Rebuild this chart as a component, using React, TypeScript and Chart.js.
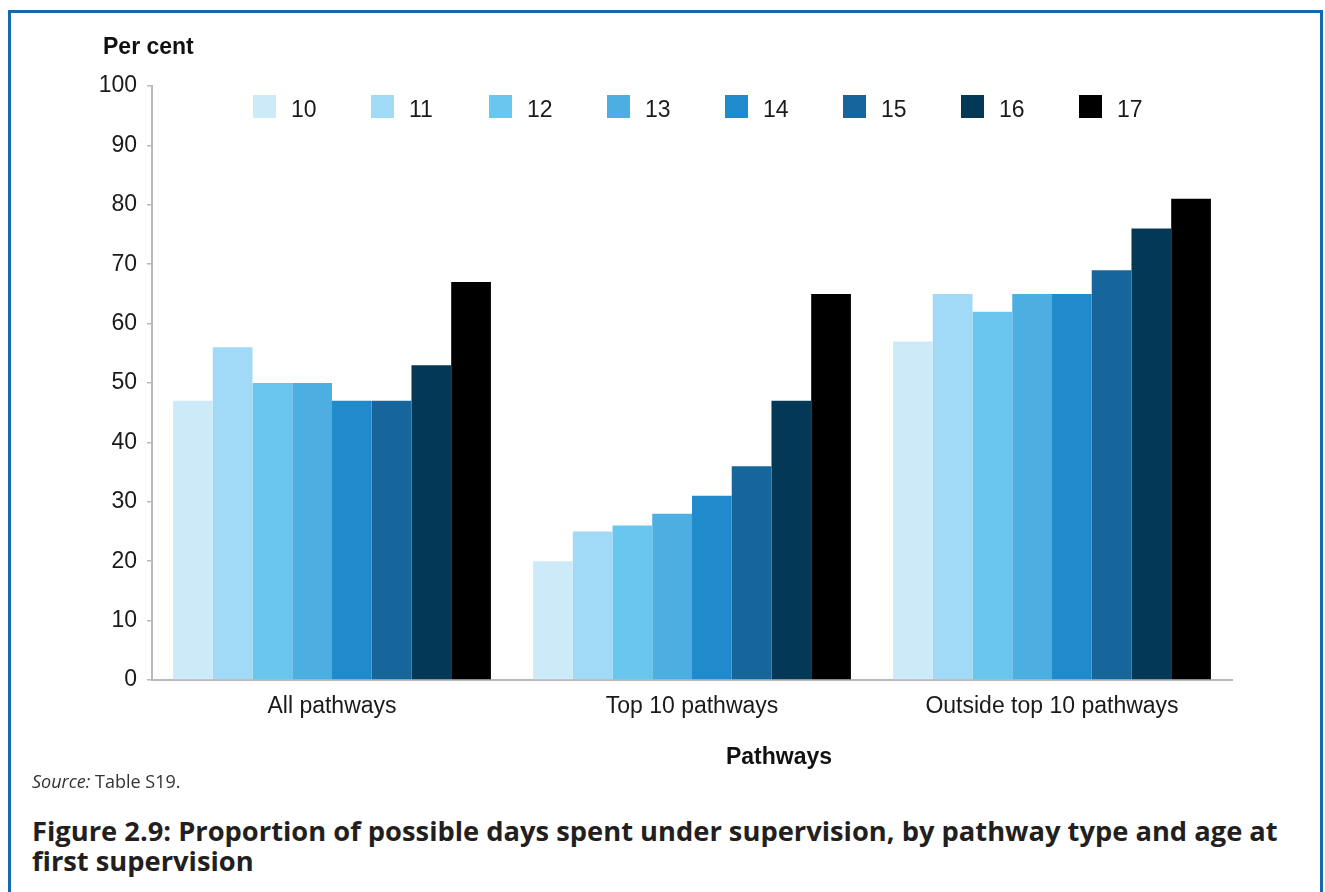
import React, { useEffect, useRef } from "react";
import { Chart, registerables } from "chart.js";

Chart.register(...registerables);

const categories = ["All pathways", "Top 10 pathways", "Outside top 10 pathways"];
const ageLabels = ["10", "11", "12", "13", "14", "15", "16", "17"];
const age10 = [47, 20, 57];
const age11 = [56, 25, 65];
const age12 = [50, 26, 62];
const age13 = [50, 28, 65];
const age14 = [47, 31, 65];
const age15 = [47, 36, 69];
const age16 = [53, 47, 76];
const age17 = [67, 65, 81];
const seriesValues = [age10, age11, age12, age13, age14, age15, age16, age17];
const seriesColors = ["#cdeaf9", "#a1daf6", "#68c6ef", "#4daee2", "#1f8bcc", "#16659b", "#043857", "#000000"];
const yTicks = [0, 10, 20, 30, 40, 50, 60, 70, 80, 90, 100];

const FONT = "'Liberation Sans', Arial, Helvetica, sans-serif";

const insideLegend = {
  id: "insideLegend",
  afterDraw(chart: any) {
    const { ctx, chartArea } = chart;
    ctx.save();
    ctx.font = `23px ${FONT}`;
    ctx.textBaseline = "middle";
    ctx.textAlign = "left";
    chart.data.datasets.forEach((ds: any, i: number) => {
      const bx = chartArea.left + 101 + i * 118;
      const by = chartArea.top + 9;
      ctx.fillStyle = ds.backgroundColor;
      ctx.fillRect(bx, by, 23, 23);
      ctx.fillStyle = "#1a1a1a";
      ctx.fillText(ds.label, bx + 38, by + 16);
    });
    ctx.restore();
  },
};

function BarChart() {
  const ref = useRef<HTMLCanvasElement | null>(null);
  useEffect(() => {
    if (!ref.current) return;
    const chart = new Chart(ref.current, {
      type: "bar",
      data: {
        labels: categories,
        datasets: ageLabels.map((lab, i) => ({
          label: lab,
          data: seriesValues[i],
          backgroundColor: seriesColors[i],
          borderWidth: 0,
          categoryPercentage: 0.883,
          barPercentage: 1,
        })),
      },
      options: {
        animation: false,
        responsive: true,
        maintainAspectRatio: false,
        layout: { padding: { left: 81, right: 88, top: 73, bottom: 40 } },
        plugins: {
          legend: { display: false },
          tooltip: { enabled: false },
          title: { display: false },
        },
        scales: {
          x: {
            grid: { display: false, drawTicks: false },
            border: { display: true, color: "#bdb7b7", width: 2 },
            ticks: {
              color: "#1a1a1a",
              font: { family: FONT, size: 23 },
              padding: 13,
              maxRotation: 0,
            },
            afterFit: (s: any) => {
              s.height = 50;
            },
          },
          y: {
            min: 0,
            max: 100,
            afterBuildTicks: (s: any) => {
              s.ticks = yTicks.map((v) => ({ value: v }));
            },
            grid: {
              display: true,
              drawOnChartArea: false,
              drawTicks: true,
              tickLength: 5,
              color: "#bdb7b7",
              lineWidth: 1.5,
            },
            border: { display: true, color: "#bdb7b7", width: 2 },
            ticks: {
              color: "#1a1a1a",
              font: { family: FONT, size: 23 },
              padding: 10,
            },
            afterFit: (s: any) => {
              s.width = 60;
            },
          },
        },
      },
      plugins: [insideLegend],
    });
    return () => chart.destroy();
  }, []);
  return (
    <div style={{ position: "absolute", left: 0, top: 0, width: 1309, height: 757 }}>
      <canvas ref={ref} />
    </div>
  );
}

export default function App() {
  return (
    <div
      style={{
        position: "absolute",
        left: 8,
        top: 10,
        width: 1309,
        height: 879,
        borderTop: "3px solid #1669b0",
        borderLeft: "3px solid #1669b0",
        borderRight: "3px solid #1669b0",
        background: "#ffffff",
        overflow: "hidden",
      }}
    >
      <BarChart />
      <div
        style={{
          position: "absolute",
          left: 92,
          top: 22,
          font: `bold 23px ${FONT}`,
          lineHeight: "23px",
          color: "#111",
          whiteSpace: "nowrap",
        }}
      >
        Per cent
      </div>
      <div
        style={{
          position: "absolute",
          left: 768,
          top: 732,
          transform: "translateX(-50%)",
          font: `bold 23px ${FONT}`,
          lineHeight: "23px",
          color: "#111",
          whiteSpace: "nowrap",
        }}
      >
        Pathways
      </div>
      <div
        style={{
          position: "absolute",
          left: 21,
          top: 759,
          fontFamily: "'Open Sans', sans-serif",
          fontSize: 18,
          lineHeight: "18px",
          color: "#333",
          whiteSpace: "nowrap",
        }}
      >
        <i>Source:</i> Table S19.
      </div>
      <div
        style={{
          position: "absolute",
          left: 21,
          top: 803,
          fontFamily: "'Open Sans', sans-serif",
          fontWeight: 700,
          fontSize: 27.3,
          lineHeight: "30px",
          color: "#231f20",
          whiteSpace: "nowrap",
        }}
      >
        Figure 2.9: Proportion of possible days spent under supervision, by pathway type and age at
        <br />
        first supervision
      </div>
    </div>
  );
}
